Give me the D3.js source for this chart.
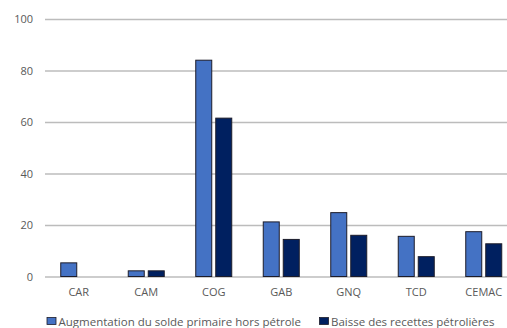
<!DOCTYPE html>
<html>
<head>
<meta charset="utf-8">
<script src="https://cdn.jsdelivr.net/npm/d3@7"></script>
<style>
  html, body { margin: 0; padding: 0; background: #fff; }
  svg { display: block; }
  text { font-family: "Open Sans", "Noto Sans", sans-serif; fill: #595959; }
</style>
</head>
<body>
<script>
const categories = ["CAR", "CAM", "COG", "GAB", "GNQ", "TCD", "CEMAC"];
const seriesNames = ["Augmentation du solde primaire hors pétrole", "Baisse des recettes pétrolières"];
const augmentation = [5.3, 2.2, 84, 21.2, 24.8, 15.6, 17.4];
const baisse = [0, 2.2, 61.5, 14.4, 16, 7.7, 12.7];
const yTicks = [0, 20, 40, 60, 80, 100];
const colors = ["#4472C4", "#002060"];

const W = 507, H = 328;
const svg = d3.select("body").append("svg").attr("width", W).attr("height", H);

const y = d3.scaleLinear().domain([0, 100]).range([276.5, 19]);
const x0 = d3.scaleBand().domain(categories).range([45, 517.5]).padding(0);
const x1 = d3.scaleBand().domain([0, 1])
  .range([x0.bandwidth() / 2 - 18, x0.bandwidth() / 2 + 18]).paddingInner(0.2);

// gridlines
const yAxis = d3.axisLeft(y).tickValues(yTicks).tickSize(-(W - 45)).tickPadding(12);
const gy = svg.append("g").attr("transform", "translate(45,0)").call(yAxis);
gy.select(".domain").remove();
gy.selectAll(".tick line").attr("stroke", "#bcbcbc").attr("stroke-width", 1.6);
gy.selectAll(".tick text").attr("font-size", 11).attr("fill", "#595959")
  .attr("font-family", '"Open Sans", sans-serif');

// bars
const data = categories.map((c, i) => ({ c, vals: [augmentation[i], baisse[i]] }));
const groups = svg.append("g").selectAll("g").data(data).join("g")
  .attr("transform", d => `translate(${x0(d.c)},0)`);
groups.selectAll("rect").data(d => d.vals.map((v, k) => ({ v, k })).filter(e => e.v > 0))
  .join("rect")
  .attr("x", e => x1(e.k))
  .attr("width", x1.bandwidth())
  .attr("y", e => y(e.v))
  .attr("height", e => y(0) - y(e.v))
  .attr("fill", e => colors[e.k])
  .attr("stroke", "#1c1c2a")
  .attr("stroke-width", 1);

// x axis labels
const xAxis = d3.axisBottom(x0).tickSize(0).tickPadding(12);
const gx = svg.append("g").attr("transform", `translate(0,${y(0)})`).call(xAxis);
gx.select(".domain").remove();
gx.selectAll(".tick text").attr("font-size", 11).attr("fill", "#595959")
  .attr("font-family", '"Open Sans", sans-serif');

// legend
const legendItems = [{ x: 47, tx: 58.5 }, { x: 319.5, tx: 331 }];
const lg = svg.append("g");
seriesNames.forEach((name, k) => {
  lg.append("rect").attr("x", legendItems[k].x).attr("y", 317.5).attr("width", 9).attr("height", 7)
    .attr("fill", colors[k]).attr("stroke", "#1c1c2a").attr("stroke-width", 0.8);
  lg.append("text").attr("x", legendItems[k].tx).attr("y", 325.5)
    .attr("font-size", 11.5).text(name);
});
</script>
</body>
</html>
